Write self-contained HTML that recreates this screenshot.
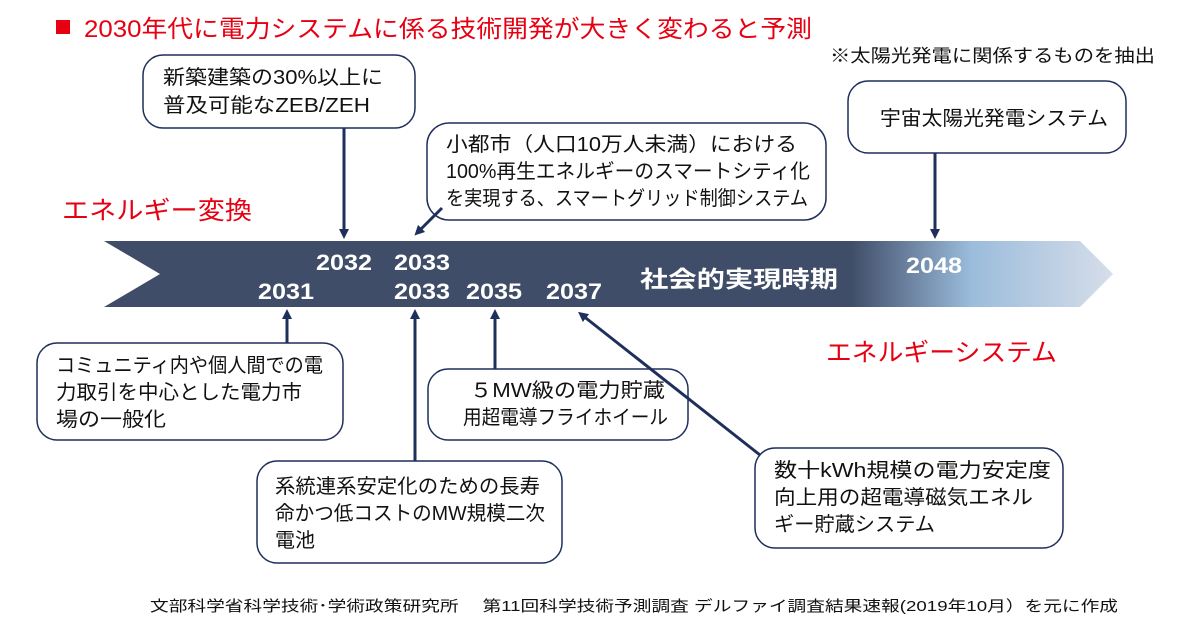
<!DOCTYPE html>
<html><head><meta charset="utf-8"><style>
body{margin:0;background:#fff;}
svg text{font-family:"Liberation Sans","Noto Sans CJK JP",sans-serif;}
</style></head><body>
<svg width="1200" height="630" viewBox="0 0 1200 630" xmlns="http://www.w3.org/2000/svg">
<defs>
<linearGradient id="g" x1="0" x2="1" y1="0" y2="0">
<stop offset="0" stop-color="#3f4d68"/>
<stop offset="0.74" stop-color="#3f4d68"/>
<stop offset="0.86" stop-color="#9bbcdc"/>
<stop offset="1" stop-color="#d6dee9"/>
</linearGradient>
<marker id="a" markerWidth="10" markerHeight="10" refX="5" refY="5" orient="auto" markerUnits="userSpaceOnUse" viewBox="0 0 10 10">
<path d="M0,0 L10,5 L0,10 z" fill="#1f2f5c"/></marker>
</defs>
<rect x="56" y="20" width="14" height="14" fill="#e60012"/>
<text x="84" y="37" font-size="24" fill="#e60012" textLength="728" lengthAdjust="spacingAndGlyphs">2030年代に電力システムに係る技術開発が大きく変わると予測</text>
<text x="830" y="62" font-size="18" fill="#111" textLength="325" lengthAdjust="spacingAndGlyphs">※太陽光発電に関係するものを抽出</text>
<text x="62" y="219" font-size="25" fill="#e60012" textLength="190" lengthAdjust="spacingAndGlyphs">エネルギー変換</text>
<text x="826" y="361" font-size="25" fill="#e60012" textLength="231" lengthAdjust="spacingAndGlyphs">エネルギーシステム</text>
<path d="M104,241 L1080,241 L1113,274 L1080,307 L104,307 L160,274 Z" fill="url(#g)"/>
<g font-size="22" font-weight="bold" fill="#fff" font-family="Liberation Sans">
<text x="316" y="270" textLength="56" lengthAdjust="spacingAndGlyphs">2032</text><text x="394" y="270" textLength="56" lengthAdjust="spacingAndGlyphs">2033</text>
<text x="258" y="299" textLength="56" lengthAdjust="spacingAndGlyphs">2031</text><text x="394" y="299" textLength="56" lengthAdjust="spacingAndGlyphs">2033</text>
<text x="466" y="299" textLength="56" lengthAdjust="spacingAndGlyphs">2035</text><text x="546" y="299" textLength="56" lengthAdjust="spacingAndGlyphs">2037</text>
<text x="906" y="273" textLength="56" lengthAdjust="spacingAndGlyphs">2048</text>
<text x="640" y="287" font-size="23" textLength="198" lengthAdjust="spacingAndGlyphs">社会的実現時期</text>
</g>
<g fill="#fff" stroke="#1f2f5c" stroke-width="1.5">
<rect x="143" y="55" width="272" height="73" rx="20"/>
<rect x="427" y="123" width="399" height="97" rx="22"/>
<rect x="848" y="81" width="278" height="72" rx="20"/>
<rect x="37" y="343" width="306" height="97" rx="20"/>
<rect x="428" y="369" width="260" height="71" rx="20"/>
<rect x="257" y="461" width="305" height="102" rx="20"/>
<rect x="755" y="448" width="308" height="100" rx="20"/>
</g>
<g stroke="#1f2f5c" stroke-width="3" marker-end="url(#a)">
<line x1="344" y1="128" x2="344" y2="234"/>
<line x1="442" y1="208" x2="418" y2="232"/>
<line x1="935" y1="153" x2="935" y2="234"/>
<line x1="287" y1="343" x2="287" y2="314"/>
<line x1="415" y1="461" x2="415" y2="314"/>
<line x1="495" y1="369" x2="495" y2="314"/>
<line x1="760" y1="455" x2="582" y2="315"/>
</g>
<g font-size="20" fill="#111" lengthAdjust="spacingAndGlyphs">
<text x="163" y="84" textLength="220" lengthAdjust="spacingAndGlyphs">新築建築の30%以上に</text>
<text x="163" y="112" textLength="207" lengthAdjust="spacingAndGlyphs">普及可能なZEB/ZEH</text>
<text x="446" y="151" textLength="351" lengthAdjust="spacingAndGlyphs">小都市（人口10万人未満）における</text>
<text x="446" y="178" textLength="364" lengthAdjust="spacingAndGlyphs">100%再生エネルギーのスマートシティ化</text>
<text x="446" y="205" textLength="362" lengthAdjust="spacingAndGlyphs">を実現する、スマートグリッド制御システム</text>
<text x="880" y="125" textLength="228" lengthAdjust="spacingAndGlyphs">宇宙太陽光発電システム</text>
<text x="56" y="372" textLength="267" lengthAdjust="spacingAndGlyphs">コミュニティ内や個人間での電</text>
<text x="56" y="399" textLength="246" lengthAdjust="spacingAndGlyphs">力取引を中心とした電力市</text>
<text x="56" y="426" textLength="110" lengthAdjust="spacingAndGlyphs">場の一般化</text>
<text x="470" y="397" textLength="195" lengthAdjust="spacingAndGlyphs">５MW級の電力貯蔵</text>
<text x="463" y="424" textLength="205" lengthAdjust="spacingAndGlyphs">用超電導フライホイール</text>
<text x="275" y="493" textLength="265" lengthAdjust="spacingAndGlyphs">系統連系安定化のための長寿</text>
<text x="275" y="520" textLength="270" lengthAdjust="spacingAndGlyphs">命かつ低コストのMW規模二次</text>
<text x="275" y="547" textLength="40" lengthAdjust="spacingAndGlyphs">電池</text>
<text x="774" y="477" textLength="277" lengthAdjust="spacingAndGlyphs">数十kWh規模の電力安定度</text>
<text x="774" y="504" textLength="259" lengthAdjust="spacingAndGlyphs">向上用の超電導磁気エネル</text>
<text x="774" y="531" textLength="161" lengthAdjust="spacingAndGlyphs">ギー貯蔵システム</text>
</g>
<text x="150" y="611" font-size="15" fill="#111" textLength="968" lengthAdjust="spacingAndGlyphs">文部科学省科学技術･学術政策研究所　 第11回科学技術予測調査  デルファイ調査結果速報(2019年10月）を元に作成</text>
</svg>
</body></html>
